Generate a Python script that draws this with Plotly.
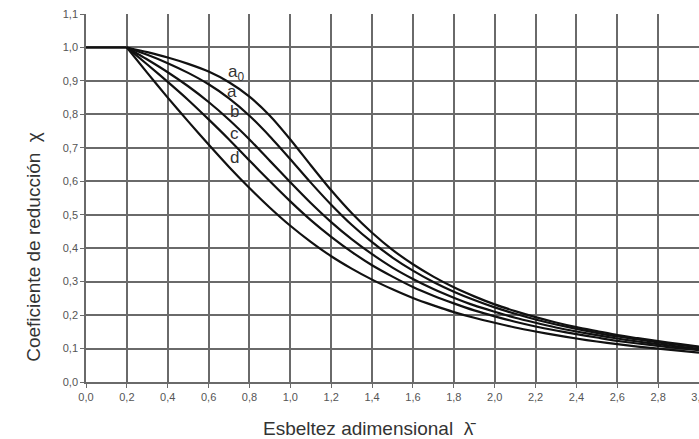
import plotly.graph_objects as go

lam = [0.0, 0.1, 0.2, 0.3, 0.4, 0.5, 0.6, 0.7, 0.8, 0.9, 1.0, 1.1, 1.2, 1.3, 1.4, 1.5,
       1.6, 1.7, 1.8, 1.9, 2.0, 2.1, 2.2, 2.3, 2.4, 2.5, 2.6, 2.7, 2.8, 2.9, 3.0]

chi_a0 = [1.0, 1.0, 1.0, 0.986, 0.970, 0.951, 0.928, 0.896, 0.853, 0.796, 0.725, 0.648,
          0.573, 0.505, 0.446, 0.395, 0.352, 0.315, 0.283, 0.256, 0.232, 0.212, 0.194,
          0.178, 0.164, 0.152, 0.140, 0.131, 0.122, 0.114, 0.106]
chi_a = [1.0, 1.0, 1.0, 0.978, 0.953, 0.924, 0.890, 0.848, 0.796, 0.734, 0.666, 0.596,
         0.530, 0.470, 0.418, 0.372, 0.333, 0.299, 0.270, 0.245, 0.223, 0.204, 0.187,
         0.172, 0.159, 0.147, 0.136, 0.127, 0.118, 0.111, 0.104]
chi_b = [1.0, 1.0, 1.0, 0.964, 0.926, 0.884, 0.837, 0.784, 0.725, 0.661, 0.597, 0.535,
         0.478, 0.427, 0.382, 0.342, 0.308, 0.278, 0.252, 0.229, 0.210, 0.192, 0.177,
         0.163, 0.151, 0.140, 0.130, 0.121, 0.113, 0.106, 0.099]
chi_c = [1.0, 1.0, 1.0, 0.949, 0.897, 0.843, 0.785, 0.725, 0.662, 0.600, 0.540, 0.484,
         0.434, 0.389, 0.349, 0.315, 0.284, 0.258, 0.235, 0.214, 0.196, 0.180, 0.166,
         0.154, 0.143, 0.133, 0.123, 0.115, 0.108, 0.101, 0.095]
chi_d = [1.0, 1.0, 1.0, 0.924, 0.850, 0.779, 0.710, 0.643, 0.580, 0.521, 0.467, 0.419,
         0.376, 0.339, 0.306, 0.277, 0.251, 0.229, 0.209, 0.192, 0.177, 0.163, 0.151,
         0.140, 0.130, 0.121, 0.113, 0.106, 0.100, 0.094, 0.088]

curve_names = ["a<sub>0</sub>", "a", "b", "c", "d"]
curve_values = [chi_a0, chi_a, chi_b, chi_c, chi_d]
label_x = [0.735, 0.715, 0.725, 0.725, 0.728]
label_y = [0.924, 0.867, 0.810, 0.744, 0.672]

x_ticks = [0.0, 0.2, 0.4, 0.6, 0.8, 1.0, 1.2, 1.4, 1.6, 1.8, 2.0, 2.2, 2.4, 2.6, 2.8, 3.0]
y_ticks = [0.0, 0.1, 0.2, 0.3, 0.4, 0.5, 0.6, 0.7, 0.8, 0.9, 1.0, 1.1]

PLATEAU_END = 3  # points up to lambda = 0.2 form the flat part, drawn straight

fig = go.Figure()
fig.add_trace(go.Scatter(
    x=lam[:PLATEAU_END], y=chi_a0[:PLATEAU_END], mode="lines",
    line=dict(color="#111111", width=2.4), hoverinfo="skip",
))
for name, vals in zip(curve_names, curve_values):
    fig.add_trace(go.Scatter(
        x=lam[PLATEAU_END - 1:], y=vals[PLATEAU_END - 1:], mode="lines", name=name,
        line=dict(color="#111111", width=2.2, shape="spline", smoothing=0.6),
        hoverinfo="skip",
    ))

for name, lx, ly in zip(curve_names, label_x, label_y):
    fig.add_annotation(x=lx, y=ly, text=name, showarrow=False,
                       font=dict(family="Liberation Sans, Arial", size=17, color="#333333"),
                       xanchor="center", yanchor="middle")

grid_col = "#6a6a6a"
tick_font = dict(family="Liberation Sans Narrow, Arial Narrow, Liberation Sans, Arial",
                 size=11, color="#555555")

fig.update_xaxes(range=[0, 3.0], tickvals=x_ticks, tickformat=".1f",
                 showgrid=True, gridcolor=grid_col, gridwidth=1.5,
                 showline=True, linecolor=grid_col, linewidth=1.5,
                 ticks="outside", ticklen=4, tickcolor=grid_col,
                 tickfont=tick_font, zeroline=False, mirror=False,
                 ticklabeloverflow="allow", automargin=False)
fig.update_yaxes(range=[0, 1.1], tickvals=y_ticks, tickformat=".1f",
                 showgrid=True, gridcolor=grid_col, gridwidth=1.5,
                 showline=True, linecolor=grid_col, linewidth=1.5,
                 ticks="outside", ticklen=4, tickcolor=grid_col,
                 tickfont=tick_font, zeroline=False,
                 ticklabeloverflow="allow", automargin=False)

fig.add_annotation(xref="paper", yref="paper", x=-0.085, y=0.367,
                   text="Coeficiente de reducción  χ", textangle=-90, showarrow=False,
                   font=dict(family="Liberation Sans, Arial", size=19, color="#333333"),
                   xanchor="center", yanchor="middle")
fig.add_annotation(xref="paper", yref="paper", x=0.463, y=-0.125,
                   text="Esbeltez adimensional  λ\u0304", showarrow=False,
                   font=dict(family="Liberation Sans, Arial", size=19, color="#333333"),
                   xanchor="center", yanchor="middle")

fig.update_layout(
    width=699, height=439,
    margin=dict(l=86, r=0, t=14, b=57),
    paper_bgcolor="white", plot_bgcolor="white",
    showlegend=False,
    separators=",.",
)

fig.write_html(
    "out.html",
    config={"responsive": False, "displayModeBar": False},
    post_script="document.body.style.margin='0';document.body.style.overflow='hidden';",
)
